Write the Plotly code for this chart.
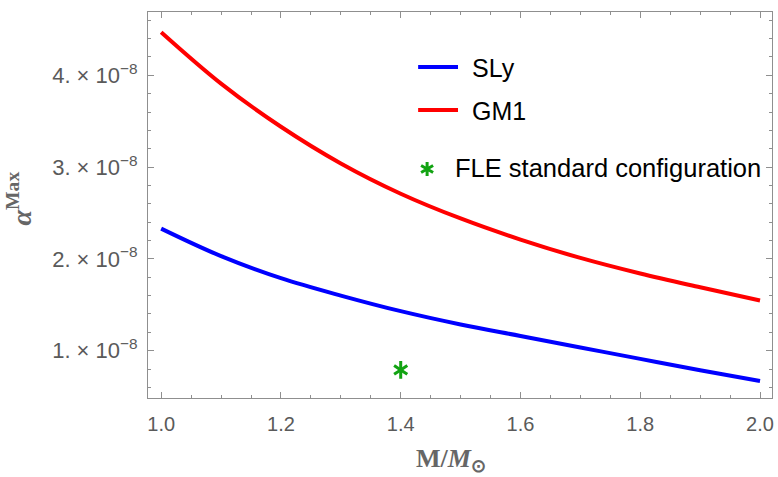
import plotly.graph_objects as go

# Neutron-star mass in solar masses
mass = [1.0, 1.1, 1.2, 1.3, 1.4, 1.5, 1.6, 1.7, 1.8, 1.9, 2.0]

# Maximum alpha for each equation of state
alpha_sly = [2.33e-8, 2.03e-8, 1.79e-8, 1.60e-8, 1.43e-8, 1.285e-8,
             1.16e-8, 1.035e-8, 0.91e-8, 0.787e-8, 0.67e-8]
alpha_gm1 = [4.47e-8, 3.91e-8, 3.44e-8, 3.04e-8, 2.71e-8, 2.44e-8,
             2.21e-8, 2.01e-8, 1.84e-8, 1.69e-8, 1.546e-8]

# FLE standard configuration point
fle_mass = [1.4]
fle_alpha = [0.79e-8]

x_tick_vals = [1.0, 1.2, 1.4, 1.6, 1.8, 2.0]
x_tick_text = ["1.0", "1.2", "1.4", "1.6", "1.8", "2.0"]
y_tick_vals = [1e-8, 2e-8, 3e-8, 4e-8]
y_tick_text = ["1. \u00d7 10<sup>\u22128</sup>", "2. \u00d7 10<sup>\u22128</sup>",
               "3. \u00d7 10<sup>\u22128</sup>", "4. \u00d7 10<sup>\u22128</sup>"]

BLUE = "#0000ff"
RED = "#ff0000"
GREEN = "#12a312"
FRAME = "#8f8f8f"
LABEL = "#5a5a5a"

fig = go.Figure()
fig.add_trace(go.Scatter(x=mass, y=alpha_sly, mode="lines", name="SLy",
                         line=dict(color=BLUE, width=4, shape="spline"),
                         showlegend=False))
fig.add_trace(go.Scatter(x=mass, y=alpha_gm1, mode="lines", name="GM1",
                         line=dict(color=RED, width=4, shape="spline"),
                         showlegend=False))
# six-armed asterisk built from two three-armed symbols
for sym in ["y-up-open", "y-down-open"]:
    fig.add_trace(go.Scatter(x=fle_mass, y=fle_alpha, mode="markers",
                             name="FLE standard configuration",
                             marker=dict(symbol=sym, size=11, color=GREEN,
                                         line=dict(color=GREEN, width=3)),
                             showlegend=False))

L, R, T, B = 148, 4, 12, 79
W, H = 778, 477
pw, ph = W - L - R, H - T - B


def px(xp):
    return (xp - L) / pw


def py(yp):
    return (H - B - yp) / ph


shapes = []
annotations = []
# legend entries
for yl, col, txt in [(67, BLUE, "SLy"), (110, RED, "GM1")]:
    shapes.append(dict(type="line", xref="paper", yref="paper",
                       x0=px(419), x1=px(459), y0=py(yl), y1=py(yl),
                       line=dict(color=col, width=4)))
    annotations.append(dict(xref="paper", yref="paper", x=px(471), y=py(yl + 1),
                            xanchor="left", yanchor="middle", showarrow=False,
                            text=txt, font=dict(family="Liberation Sans", size=25,
                                                color="black")))
shapes.append(dict(type="path", xref="paper", yref="paper",
                   xsizemode="pixel", ysizemode="pixel",
                   xanchor=px(428), yanchor=py(169),
                   path="M0,-7 L0,7 M-6,-3.5 L6,3.5 M-6,3.5 L6,-3.5",
                   line=dict(color=GREEN, width=3)))
annotations.append(dict(xref="paper", yref="paper", x=px(454), y=py(168),
                        xanchor="left", yanchor="middle", showarrow=False,
                        text="FLE standard configuration",
                        font=dict(family="Liberation Sans", size=25.5, color="black")))

# axis titles
annotations.append(dict(xref="paper", yref="paper", x=px(452), y=py(460),
                        xanchor="center", yanchor="middle", showarrow=False,
                        text="<b>M/<i>M</i><sub>\u2299</sub></b>",
                        font=dict(family="Liberation Serif", size=26, color="#666666")))
annotations.append(dict(xref="paper", yref="paper", x=px(19), y=py(198),
                        xanchor="center", yanchor="middle", showarrow=False,
                        textangle=-90,
                        text="<b><i>\u03b1</i><sup>Max</sup></b>",
                        font=dict(family="Liberation Serif", size=28, color="#666666")))

axis_common = dict(showgrid=False, zeroline=False, showline=True, linecolor=FRAME,
                   linewidth=1, mirror="ticks", ticks="inside", tickcolor=FRAME,
                   tickwidth=1, ticklen=6)

fig.update_xaxes(range=[0.978, 2.02], tickvals=x_tick_vals, ticktext=x_tick_text,
                 ticklabelstandoff=8,
                 tickfont=dict(family="Liberation Sans", size=20, color=LABEL),
                 minor=dict(dtick=0.05, tick0=1.0, ticks="inside", ticklen=3,
                            tickcolor=FRAME, showgrid=False),
                 **axis_common)
fig.update_yaxes(range=[0.484e-8, 4.69e-8], tickvals=y_tick_vals, ticktext=y_tick_text,
                 ticklabelstandoff=5,
                 tickfont=dict(family="Liberation Sans", size=22, color=LABEL),
                 minor=dict(dtick=0.2e-8, tick0=0, ticks="inside", ticklen=3,
                            tickcolor=FRAME, showgrid=False),
                 **axis_common)

fig.update_layout(width=W, height=H, margin=dict(l=L, r=R, t=T, b=B),
                  paper_bgcolor="white", plot_bgcolor="white",
                  shapes=shapes, annotations=annotations, showlegend=False)

fig.write_html("out.html")
